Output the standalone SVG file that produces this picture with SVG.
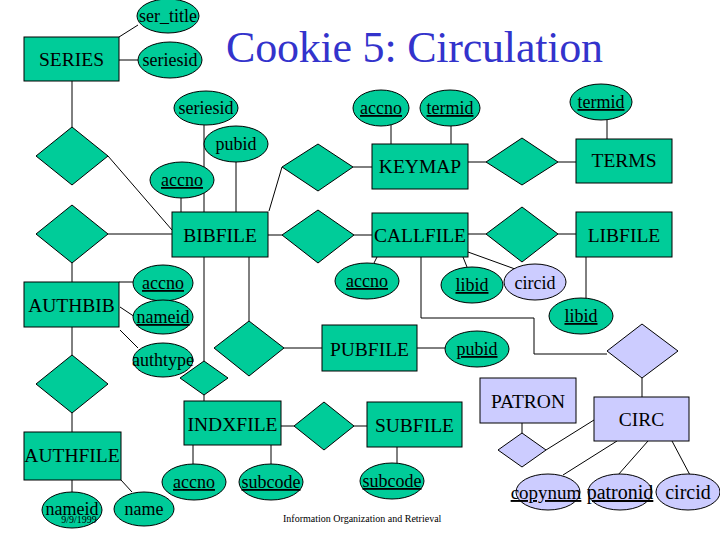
<svg xmlns="http://www.w3.org/2000/svg" width="720" height="540" viewBox="0 0 720 540" font-family="'Liberation Serif', 'DejaVu Serif', serif">
<style>
text{font-family:'Liberation Serif','DejaVu Serif',serif;fill:#000;text-anchor:middle}
.e{fill:#00cc99;stroke:#000;stroke-width:1}
.l{fill:#ccccff;stroke:#000;stroke-width:1}
.et{font-size:19.5px}
.at{font-size:18px}
.u{text-decoration:underline;text-decoration-thickness:2px}
.c line,.c path{stroke:#000;stroke-width:1;fill:none}
</style>
<rect width="720" height="540" fill="#fff"/>
<text x="226" y="62" style="font-size:44px;fill:#3333cc;text-anchor:start" textLength="377">Cookie 5: Circulation</text>
<g class="c" id="connectors">
<line x1="119" y1="37" x2="138" y2="25"/>
<line x1="119" y1="60" x2="138" y2="60"/>
<line x1="72" y1="81" x2="72" y2="127"/>
<line x1="108" y1="156" x2="172" y2="230"/>
<line x1="204" y1="125" x2="204" y2="212"/>
<line x1="236" y1="162" x2="236" y2="212"/>
<line x1="181" y1="198" x2="181" y2="212"/>
<line x1="282" y1="167" x2="269" y2="211"/>
<line x1="353" y1="167" x2="372" y2="167"/>
<line x1="391" y1="124" x2="391" y2="144"/>
<line x1="451" y1="125" x2="451" y2="144"/>
<line x1="468" y1="162" x2="486" y2="162"/>
<line x1="558" y1="162" x2="576" y2="162"/>
<line x1="607" y1="120" x2="607" y2="139"/>
<line x1="108" y1="234" x2="172" y2="234"/>
<line x1="268" y1="235" x2="282" y2="235"/>
<line x1="354" y1="235" x2="372" y2="235"/>
<line x1="468" y1="234" x2="486" y2="234"/>
<line x1="558" y1="234" x2="576" y2="234"/>
<line x1="377" y1="257" x2="374" y2="263"/>
<line x1="463" y1="257" x2="467" y2="267"/>
<line x1="468" y1="252" x2="515" y2="269"/>
<path d="M421,257 V318 H534 V354 H607"/>
<line x1="586" y1="257" x2="586" y2="298"/>
<line x1="642" y1="378" x2="642" y2="397"/>
<line x1="522" y1="423" x2="522" y2="433"/>
<line x1="546" y1="450" x2="594" y2="420"/>
<line x1="617" y1="441" x2="563" y2="475"/>
<line x1="648" y1="441" x2="618" y2="475"/>
<line x1="672" y1="441" x2="690" y2="475"/>
<line x1="72" y1="263" x2="72" y2="282"/>
<line x1="119" y1="282" x2="133" y2="282"/>
<line x1="120" y1="307" x2="135" y2="317"/>
<line x1="120" y1="330" x2="138" y2="348"/>
<line x1="72" y1="327" x2="72" y2="355"/>
<line x1="72" y1="413" x2="72" y2="432"/>
<line x1="72" y1="480" x2="72" y2="492"/>
<line x1="121" y1="480" x2="132" y2="492"/>
<line x1="204" y1="257" x2="204" y2="361"/>
<line x1="204" y1="395" x2="204" y2="401"/>
<line x1="249" y1="257" x2="249" y2="321"/>
<line x1="284" y1="348" x2="322" y2="348"/>
<line x1="417" y1="348" x2="446" y2="348"/>
<line x1="281" y1="426" x2="294" y2="426"/>
<line x1="354" y1="426" x2="367" y2="426"/>
<line x1="193" y1="445" x2="193" y2="464"/>
<line x1="271" y1="445" x2="271" y2="464"/>
<line x1="397" y1="447" x2="397" y2="463"/>
</g>
<g id="SERIES"><rect class="e" x="24" y="37" width="95" height="44"/><text class="et" x="71.5" y="66">SERIES</text></g>
<g id="BIBFILE"><rect class="e" x="172" y="212" width="96" height="45"/><text class="et" x="220" y="242">BIBFILE</text></g>
<g id="KEYMAP"><rect class="e" x="372" y="144" width="96" height="45"/><text class="et" x="420" y="173">KEYMAP</text></g>
<g id="TERMS"><rect class="e" x="576" y="139" width="96" height="44"/><text class="et" x="624" y="167">TERMS</text></g>
<g id="CALLFILE"><rect class="e" x="372" y="213" width="96" height="44"/><text class="et" x="420" y="242">CALLFILE</text></g>
<g id="LIBFILE"><rect class="e" x="576" y="212" width="96" height="45"/><text class="et" x="624" y="242">LIBFILE</text></g>
<g id="AUTHBIB"><rect class="e" x="24" y="282" width="95" height="45"/><text class="et" x="71.5" y="312">AUTHBIB</text></g>
<g id="PUBFILE"><rect class="e" x="322" y="325" width="95" height="46"/><text class="et" x="369.5" y="356">PUBFILE</text></g>
<g id="SUBFILE"><rect class="e" x="367" y="402" width="95" height="45"/><text class="et" x="414.5" y="432">SUBFILE</text></g>
<g id="INDXFILE"><rect class="e" x="184" y="401" width="97" height="44"/><text class="et" x="232.5" y="431">INDXFILE</text></g>
<g id="AUTHFILE"><rect class="e" x="24" y="432" width="97" height="48"/><text class="et" x="72" y="462">AUTHFILE</text></g>
<g id="PATRON"><rect class="l" x="480" y="378" width="96" height="45"/><text class="et" x="528" y="408">PATRON</text></g>
<g id="CIRC"><rect class="l" x="594" y="397" width="95" height="44"/><text class="et" x="641.5" y="426">CIRC</text></g>
<g id="d1"><polygon class="e" points="72,127 108,156 72,185 36,156"/></g>
<g id="d2"><polygon class="e" points="72,205 108,234 72,263 36,234"/></g>
<g id="d3"><polygon class="e" points="72,355 108,384 72,413 36,384"/></g>
<g id="d4"><polygon class="e" points="318,144 353,167 318,191 282,167"/></g>
<g id="d5"><polygon class="e" points="522,138 558,162 522,185 486,162"/></g>
<g id="d6"><polygon class="e" points="318,210 354,235 318,263 282,235"/></g>
<g id="d7"><polygon class="e" points="522,207 558,234 522,262 486,234"/></g>
<g id="d8"><polygon class="e" points="204,361 228,378 204,395 180,378"/></g>
<g id="d9"><polygon class="e" points="249,321 284,348 249,376 214,348"/></g>
<g id="d10"><polygon class="e" points="324,402 354,426 324,450 294,426"/></g>
<g id="d11"><polygon class="l" points="642,324 678,351 642,378 607,351"/></g>
<g id="d12"><polygon class="l" points="522,433 546,450 522,467 498,450"/></g>
<g id="a_ser_title"><ellipse class="e" cx="168" cy="16" rx="31" ry="17"/><text class="at" x="168" y="22">ser_title</text></g>
<g id="a_seriesid1"><ellipse class="e" cx="170" cy="60" rx="32" ry="18"/><text class="at" x="170" y="66">seriesid</text></g>
<g id="a_seriesid2"><ellipse class="e" cx="206" cy="108" rx="32" ry="17"/><text class="at" x="206" y="114">seriesid</text></g>
<g id="a_pubid1"><ellipse class="e" cx="236" cy="144" rx="32" ry="18"/><text class="at" x="236" y="150">pubid</text></g>
<g id="a_accno1"><ellipse class="e" cx="182" cy="180" rx="32" ry="18"/><text class="at u" x="182" y="186">accno</text></g>
<g id="a_accno2"><ellipse class="e" cx="381" cy="108" rx="28" ry="18"/><text class="at u" x="381" y="114">accno</text></g>
<g id="a_termid1"><ellipse class="e" cx="450" cy="108" rx="30" ry="18"/><text class="at u" x="450" y="114">termid</text></g>
<g id="a_termid2"><ellipse class="e" cx="601" cy="102" rx="31" ry="18"/><text class="at u" x="601" y="108">termid</text></g>
<g id="a_accno3"><ellipse class="e" cx="367" cy="281" rx="32" ry="18"/><text class="at u" x="367" y="287">accno</text></g>
<g id="a_libid1"><ellipse class="e" cx="472" cy="285" rx="31" ry="18"/><text class="at u" x="472" y="291">libid</text></g>
<g id="a_circid1"><ellipse class="l" cx="535" cy="282" rx="31" ry="18"/><text class="at" x="535" y="289">circid</text></g>
<g id="a_libid2"><ellipse class="e" cx="581" cy="316" rx="32" ry="18"/><text class="at u" x="581" y="322">libid</text></g>
<g id="a_pubid2"><ellipse class="e" cx="477" cy="349" rx="32" ry="18"/><text class="at u" x="477" y="355">pubid</text></g>
<g id="a_accno4"><ellipse class="e" cx="163" cy="283" rx="30" ry="18"/><text class="at u" x="163" y="289">accno</text></g>
<g id="a_nameid1"><ellipse class="e" cx="163" cy="317" rx="30" ry="17"/><text class="at u" x="163" y="323">nameid</text></g>
<g id="a_authtype"><ellipse class="e" cx="163" cy="360" rx="30" ry="17"/><text class="at" x="163" y="366">authtype</text></g>
<g id="a_accno5"><ellipse class="e" cx="194" cy="482" rx="32" ry="18"/><text class="at u" x="194" y="488">accno</text></g>
<g id="a_subcode1"><ellipse class="e" cx="271" cy="482" rx="32" ry="18"/><text class="at u" x="271" y="488">subcode</text></g>
<g id="a_subcode2"><ellipse class="e" cx="392" cy="481" rx="32" ry="18"/><text class="at u" x="392" y="487">subcode</text></g>
<g id="a_nameid2"><ellipse class="e" cx="72" cy="510" rx="30" ry="18"/><text class="at" x="72" y="515">nameid</text></g>
<g id="a_name"><ellipse class="e" cx="144" cy="509" rx="30" ry="17"/><text class="at" x="144" y="515">name</text></g>
<g id="a_copynum"><ellipse class="l" cx="548" cy="492" rx="32" ry="18"/><text class="at u" x="546" y="499" style="font-size:19px">copynum</text></g>
<g id="a_patronid"><ellipse class="l" cx="620" cy="492" rx="32" ry="18"/><text class="at u" x="620" y="499" style="font-size:20px">patronid</text></g>
<g id="a_circid2"><ellipse class="l" cx="688" cy="492" rx="32" ry="18"/><text class="at" x="688" y="499" style="font-size:20px">circid</text></g>
<text x="79" y="523" style="font-size:10px">9/9/1999</text>
<text x="283" y="522" style="font-size:10px;text-anchor:start">Information Organization and Retrieval</text>
</svg>
